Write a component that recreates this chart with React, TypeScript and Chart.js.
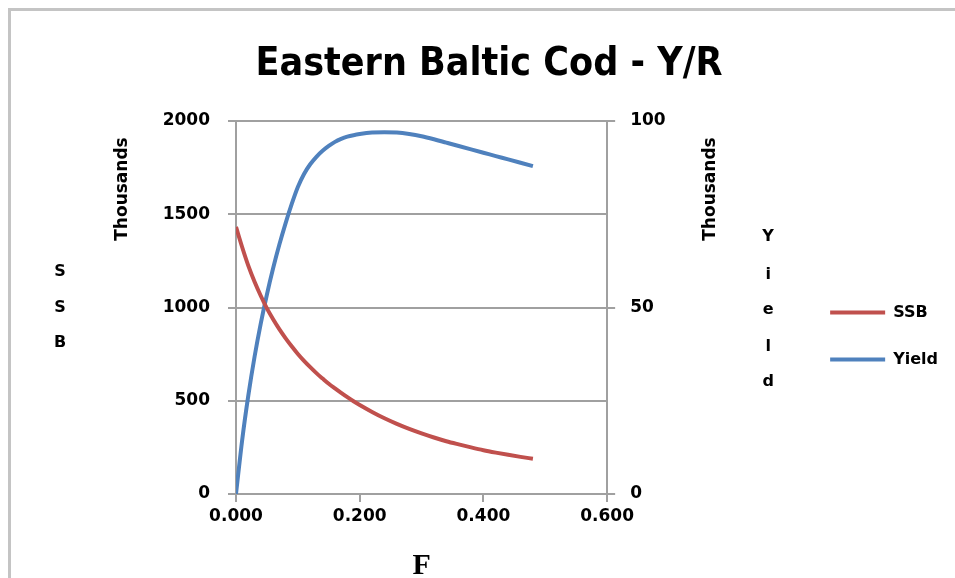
import React, { useEffect, useRef } from "react";
import { Chart, registerables } from "chart.js";

Chart.register(...registerables);

const TITLE = "Eastern Baltic Cod - Y/R";
const F_VALUES = [0, 0.01, 0.02, 0.03, 0.04, 0.05, 0.06, 0.07, 0.08, 0.09, 0.10, 0.11, 0.12, 0.13, 0.14, 0.15, 0.16, 0.17, 0.18, 0.19, 0.20, 0.22, 0.24, 0.26, 0.28, 0.30, 0.32, 0.34, 0.36, 0.38, 0.40, 0.42, 0.44, 0.46, 0.48];
const SSB_VALUES = [1432, 1323, 1223, 1138, 1063, 995, 937, 884, 836, 792, 751, 714, 680, 648, 619, 591, 566, 542, 519, 497, 477, 440, 406, 376, 349, 325, 303, 283, 266, 250, 235, 222, 210, 199, 189];
const YIELD_VALUES = [0, 14.5, 26.5, 36.8, 45.7, 53.5, 60.5, 66.8, 72.5, 77.7, 82.3, 85.8, 88.4, 90.4, 92.0, 93.3, 94.4, 95.2, 95.8, 96.2, 96.5, 96.9, 97.0, 96.9, 96.5, 95.9, 95.1, 94.2, 93.3, 92.4, 91.5, 90.6, 89.7, 88.8, 87.9];
const X_TICKS = [0, 0.2, 0.4, 0.6];
const SSB_TICKS = [0, 500, 1000, 1500, 2000];
const YIELD_TICKS = [0, 50, 100];
const LEFT_TITLE = ["S", "S", "B"];
const RIGHT_TITLE = ["Y", "i", "e", "l", "d"];
const UNIT_LABEL = "Thousands";
const X_TITLE = "F";

const RED = "#C0504D";
const BLUE = "#4F81BD";
const GRID = "#a0a0a0";
const TICK_FONT = { family: "'DejaVu Sans', sans-serif", size: 17, weight: "bold" as const };

const axisTexts = {
  id: "axisTexts",
  afterDraw(chart: any) {
    const { ctx, chartArea } = chart;
    ctx.save();
    ctx.fillStyle = "#000";
    ctx.font = "bold 17px 'DejaVu Sans', sans-serif";
    ctx.textAlign = "center";
    ctx.textBaseline = "middle";
    const drawRot = (x: number, y: number) => {
      ctx.save();
      ctx.translate(x, y);
      ctx.rotate(-Math.PI / 2);
      ctx.fillText(UNIT_LABEL, 0, 0);
      ctx.restore();
    };
    drawRot(chartArea.left - 113, chartArea.top + 68);
    drawRot(chartArea.right + 103, chartArea.top + 68);
    ctx.font = "bold 16px 'DejaVu Sans', sans-serif";
    const leftY = [151, 187, 222];
    LEFT_TITLE.forEach((c, i) => ctx.fillText(c, chartArea.left - 176, chartArea.top + leftY[i]));
    const rightY = [116, 154, 189, 226, 261];
    RIGHT_TITLE.forEach((c, i) => ctx.fillText(c, chartArea.right + 161, chartArea.top + rightY[i]));
    ctx.restore();
  },
};

export default function App() {
  const ref = useRef<HTMLCanvasElement>(null);
  useEffect(() => {
    if (!ref.current) return;
    const chart = new Chart(ref.current, {
      type: "line",
      data: {
        datasets: [
          {
            label: "SSB",
            data: F_VALUES.map((f, i) => ({ x: f, y: SSB_VALUES[i] })),
            borderColor: RED,
            backgroundColor: RED,
            borderWidth: 4,
            pointRadius: 0,
            cubicInterpolationMode: "monotone",
            yAxisID: "y",
          },
          {
            label: "Yield",
            data: F_VALUES.map((f, i) => ({ x: f, y: YIELD_VALUES[i] })),
            borderColor: BLUE,
            backgroundColor: BLUE,
            borderWidth: 4,
            pointRadius: 0,
            cubicInterpolationMode: "monotone",
            yAxisID: "y1",
          },
        ],
      },
      options: {
        animation: false,
        responsive: false,
        devicePixelRatio: 1,
        layout: { padding: { left: 19, right: 7, top: 0, bottom: 0 } },
        plugins: {
          title: {
            display: true,
            text: TITLE,
            color: "#000",
            font: { family: "'Liberation Sans Narrow', 'DejaVu Sans Condensed', sans-serif", size: 39, weight: "bold", lineHeight: 1 },
            padding: { top: 34, bottom: 37 },
          },
          legend: {
            position: "right",
            align: "center",
            title: { display: true, text: " ", font: { size: 10, lineHeight: 1.2 }, padding: { top: 0, bottom: 71 } },
            labels: {
              color: "#000",
              boxWidth: 55,
              boxHeight: 4,
              padding: 31,
              font: { family: "'DejaVu Sans', sans-serif", size: 16, weight: "bold" },
              generateLabels: (c: any) =>
                Chart.defaults.plugins.legend.labels.generateLabels(c).map((l: any) => ({ ...l, lineWidth: 0 })),
            },
          },
          tooltip: { enabled: false },
        },
        scales: {
          x: {
            type: "linear",
            min: 0,
            max: 0.6,
            afterBuildTicks: (s: any) => { s.ticks = X_TICKS.map((v) => ({ value: v })); },
            afterFit: (s: any) => { s.height = 84; },
            ticks: { color: "#000", font: TICK_FONT, padding: 4, callback: (v: any) => Number(v).toFixed(3), maxRotation: 0 },
            grid: { drawOnChartArea: false, drawTicks: true, tickLength: 8, color: GRID, lineWidth: 2 },
            border: { display: true, color: GRID, width: 2 },
            title: { display: true, text: X_TITLE, color: "#000", font: { family: "'Liberation Serif', serif", size: 30, weight: "bold", lineHeight: 1 }, padding: { top: 0, bottom: -3 } },
          },
          y: {
            type: "linear",
            position: "left",
            min: 0,
            max: 2000,
            afterBuildTicks: (s: any) => { s.ticks = SSB_TICKS.map((v) => ({ value: v })); },
            afterFit: (s: any) => { s.width = 206; },
            ticks: { color: "#000", font: TICK_FONT, padding: 18, callback: (v: any) => String(v) },
            grid: { color: GRID, lineWidth: 2, tickLength: 8 },
            border: { display: true, color: GRID, width: 2 },
          },
          y1: {
            type: "linear",
            position: "right",
            min: 0,
            max: 100,
            afterBuildTicks: (s: any) => { s.ticks = YIELD_TICKS.map((v) => ({ value: v })); },
            afterFit: (s: any) => { s.width = 192; },
            ticks: { color: "#000", font: TICK_FONT, padding: 15, callback: (v: any) => String(v) },
            grid: { drawOnChartArea: false, color: GRID, lineWidth: 2, tickLength: 8 },
            border: { display: true, color: GRID, width: 2 },
          },
        },
      },
      plugins: [axisTexts],
    });
    return () => chart.destroy();
  }, []);
  return (
    <div
      style={{
        position: "fixed",
        left: 8,
        top: 8,
        width: 944,
        height: 567,
        borderTop: "3px solid #c4c4c4",
        borderLeft: "3px solid #c4c4c4",
        background: "#fff",
      }}
    >
      <canvas ref={ref} width={944} height={567} style={{ display: "block" }} />
    </div>
  );
}
